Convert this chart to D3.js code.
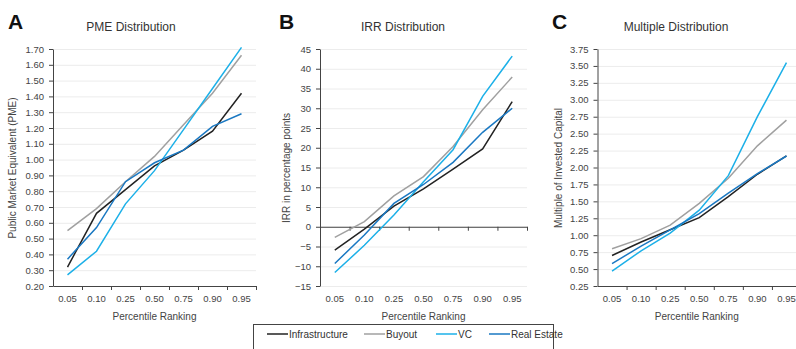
<!DOCTYPE html>
<html lang="en">
<head>
<meta charset="UTF-8">
<title>PME, IRR and Multiple Distribution</title>
<script src="https://cdnjs.cloudflare.com/ajax/libs/d3/7.8.5/d3.min.js"></script>
<style>
  body { margin: 0; background: #fff; }
  svg { display: block; font-family: "Liberation Sans", Arial, sans-serif; }
  .grid line { stroke: #ececec; stroke-width: 1; }
  .grid .domain { display: none; }
  .tick text { fill: #444; font-size: 9.5px; }
</style>
</head>
<body>
<svg id="chart" width="796" height="349"></svg>
<script>
// percentile categories on the x axis
const percentiles = ["0.05", "0.10", "0.25", "0.50", "0.75", "0.90", "0.95"];
const seriesNames = ["Infrastructure", "Buyout", "VC", "Real Estate"];
const seriesColors = ["#222222", "#a0a0a0", "#1cb0e8", "#1a78c2"];

// Panel A: PME
const pmeInfra = [0.32, 0.66, 0.81, 0.96, 1.06, 1.18, 1.42];
const pmeBuyout = [0.55, 0.69, 0.86, 1.02, 1.22, 1.42, 1.66];
const pmeVC = [0.27, 0.42, 0.72, 0.93, 1.19, 1.45, 1.71];
const pmeRE = [0.37, 0.57, 0.86, 0.98, 1.06, 1.21, 1.29];
const pmeTicks = [0.2, 0.3, 0.4, 0.5, 0.6, 0.7, 0.8, 0.9, 1.0, 1.1, 1.2, 1.3, 1.4, 1.5, 1.6, 1.7];

// Panel B: IRR
const irrInfra = [-5.9, -0.6, 5.2, 9.6, 14.6, 19.7, 31.7];
const irrBuyout = [-2.7, 1.3, 7.8, 12.7, 20.3, 29.6, 37.9];
const irrVC = [-11.6, -4.7, 3.0, 11.4, 19.5, 33.0, 43.2];
const irrRE = [-9.3, -2.1, 5.9, 10.7, 16.3, 23.9, 30.0];
const irrTicks = [-15, -10, -5, 0, 5, 10, 15, 20, 25, 30, 35, 40, 45];

// Panel C: Multiple
const mocInfra = [0.70, 0.90, 1.08, 1.26, 1.57, 1.90, 2.17];
const mocBuyout = [0.80, 0.95, 1.15, 1.47, 1.84, 2.32, 2.70];
const mocVC = [0.47, 0.77, 1.03, 1.37, 1.88, 2.75, 3.55];
const mocRE = [0.58, 0.84, 1.08, 1.32, 1.62, 1.91, 2.17];
const mocTicks = [0.25, 0.5, 0.75, 1.0, 1.25, 1.5, 1.75, 2.0, 2.25, 2.5, 2.75, 3.0, 3.25, 3.5, 3.75];

const svg = d3.select("#chart");
const plotTop = 49, plotBottom = 286;

const panels = [
    { letter: "A", title: "PME Distribution", ylabel: "Public Market Equivalent (PME)",
      x0: 53, x1: 256, letterX: 8, titleX: 131, ylabelX: 16,
      ticks: pmeTicks, fmt: d3.format(".2f"), data: [pmeInfra, pmeBuyout, pmeVC, pmeRE], zeroAxis: false },
    { letter: "B", title: "IRR Distribution", ylabel: "IRR in percentage points",
      x0: 320, x1: 527, letterX: 279, titleX: 403, ylabelX: 290,
      ticks: irrTicks, fmt: d3.format("d"), data: [irrInfra, irrBuyout, irrVC, irrRE], zeroAxis: true },
    { letter: "C", title: "Multiple Distribution", ylabel: "Multiple of Invested Capital",
      x0: 597.5, x1: 801, letterX: 552, titleX: 676, ylabelX: 562,
      ticks: mocTicks, fmt: d3.format(".2f"), data: [mocInfra, mocBuyout, mocVC, mocRE], zeroAxis: false }
];

panels.forEach(p => {
    const g = svg.append("g");
    const x = d3.scaleBand().domain(percentiles).range([p.x0, p.x1]).padding(0);
    const y = d3.scaleLinear()
        .domain([p.ticks[0], p.ticks[p.ticks.length - 1]])
        .range([plotBottom, plotTop]);

    // horizontal gridlines
    g.append("g")
        .attr("class", "grid")
        .attr("transform", `translate(${p.x0},0)`)
        .call(d3.axisLeft(y).tickValues(p.ticks).tickSize(-(p.x1 - p.x0)).tickFormat(""));

    // y axis
    const ya = g.append("g")
        .attr("transform", `translate(${p.x0},0)`)
        .call(d3.axisLeft(y).tickValues(p.ticks).tickFormat(p.fmt).tickSize(4).tickPadding(5).tickSizeOuter(0));
    ya.selectAll("line").attr("stroke", "#444");
    ya.select(".domain").attr("stroke", "#444");

    // x axis line with band boundary ticks
    const axisY = p.zeroAxis ? y(0) : plotBottom;
    const bounds = d3.scaleLinear().domain([0, percentiles.length]).range([p.x0, p.x1]);
    const xa = g.append("g")
        .attr("transform", `translate(0,${axisY})`)
        .call(d3.axisBottom(bounds).tickValues(d3.range(1, percentiles.length + 1)).tickSize(4).tickSizeOuter(0).tickFormat(""));
    xa.selectAll("line").attr("stroke", "#444");
    xa.select(".domain").attr("stroke", "#444");

    // category labels along the bottom
    const xl = g.append("g")
        .attr("transform", `translate(0,${plotBottom})`)
        .call(d3.axisBottom(x).tickSize(0).tickPadding(9));
    xl.select(".domain").remove();

    // series lines
    const line = d3.line()
        .x((d, i) => x(percentiles[i]) + x.bandwidth() / 2)
        .y(d => y(d));
    p.data.forEach((vals, i) => {
        g.append("path")
            .datum(vals)
            .attr("fill", "none")
            .attr("stroke", seriesColors[i])
            .attr("stroke-width", 1.5)
            .attr("d", line);
    });

    // panel letter, title, axis titles
    svg.append("text").attr("x", p.letterX).attr("y", 29)
        .attr("font-size", 21).attr("font-weight", "bold").attr("fill", "#111")
        .text(p.letter);
    svg.append("text").attr("x", p.titleX).attr("y", 31)
        .attr("text-anchor", "middle").attr("font-size", 12).attr("fill", "#333")
        .text(p.title);
    svg.append("text")
        .attr("transform", `translate(${p.ylabelX},168) rotate(-90)`)
        .attr("text-anchor", "middle").attr("font-size", 10).attr("fill", "#444")
        .text(p.ylabel);
    svg.append("text").attr("x", (p.x0 + Math.min(p.x1, 796)) / 2).attr("y", 320)
        .attr("text-anchor", "middle").attr("font-size", 10).attr("fill", "#444")
        .text("Percentile Ranking");
});

// legend
const legend = svg.append("g");
legend.append("rect")
    .attr("x", 253.5).attr("y", 324.5).attr("width", 300).attr("height", 30)
    .attr("fill", "#fff").attr("stroke", "#444").attr("stroke-width", 1);
const legendX = [267, 364, 436, 489];
seriesNames.forEach((name, i) => {
    legend.append("line")
        .attr("x1", legendX[i]).attr("x2", legendX[i] + 21)
        .attr("y1", 334).attr("y2", 334)
        .attr("stroke", seriesColors[i]).attr("stroke-width", 1.5);
    legend.append("text")
        .attr("x", legendX[i] + 22).attr("y", 337.5)
        .attr("font-size", 10).attr("fill", "#333")
        .text(name);
});
</script>
</body>
</html>
